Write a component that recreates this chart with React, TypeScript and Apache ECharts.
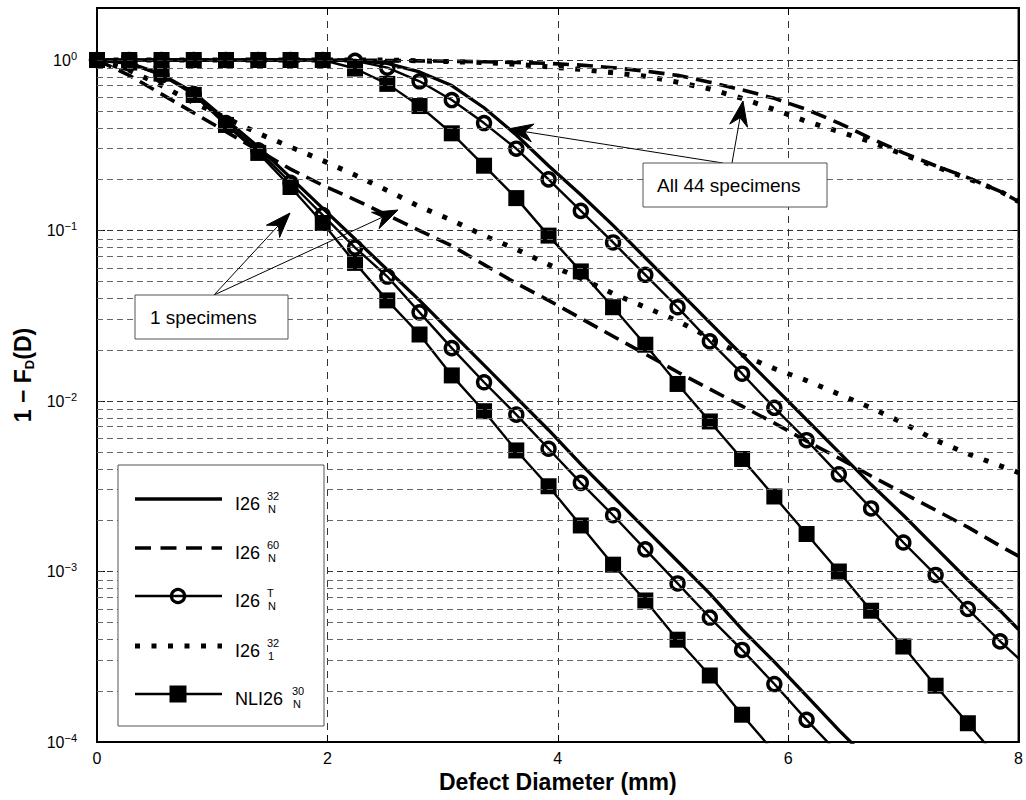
import React, { useEffect, useRef } from 'react';
import * as echarts from 'echarts';

const FONT = "'Liberation Sans', Arial, Helvetica, sans-serif";

// Defect diameter (mm) at which the curves are sampled / markers are placed
const X = [0, 0.28, 0.56, 0.84, 1.12, 1.4, 1.68, 1.96, 2.24, 2.52, 2.8, 3.08, 3.36, 3.64, 3.92, 4.2,
  4.48, 4.76, 5.04, 5.32, 5.6, 5.88, 6.16, 6.44, 6.72, 7.0, 7.28, 7.56, 7.84];
const X_END = 8;

// log10(1 - F_D(D))
// --- 1 specimen ---
const solid1 = [0, -0.02, -0.085, -0.19, -0.35, -0.51, -0.69, -0.87, -1.05, -1.23, -1.41, -1.6, -1.79, -1.98,
  -2.17, -2.37, -2.56, -2.75, -2.94, -3.13, -3.34, -3.53, -3.73, -3.93, -4.12];
const dashed1 = [0, -0.09, -0.2, -0.31, -0.42, -0.53, -0.64, -0.735, -0.82, -0.91, -1.0, -1.09, -1.2, -1.31,
  -1.41, -1.515, -1.62, -1.725, -1.83, -1.93, -2.03, -2.13, -2.235, -2.335, -2.44, -2.54, -2.64, -2.74, -2.85];
const dashed1End = -2.91;
const circle1 = [0, -0.02, -0.09, -0.2, -0.37, -0.53, -0.72, -0.91, -1.1, -1.27, -1.48, -1.69, -1.89, -2.08,
  -2.28, -2.48, -2.67, -2.87, -3.07, -3.27, -3.46, -3.66, -3.87, -4.07];
const dotted1 = [0, -0.06, -0.15, -0.25, -0.34, -0.43, -0.51, -0.59, -0.675, -0.765, -0.86, -0.94, -1.03, -1.11,
  -1.2, -1.28, -1.37, -1.45, -1.53, -1.63, -1.73, -1.81, -1.88, -1.96, -2.04, -2.13, -2.23, -2.31, -2.38];
const dotted1End = -2.42;
const square1 = [0, -0.015, -0.08, -0.205, -0.381, -0.545, -0.745, -0.956, -1.19, -1.41, -1.61, -1.85, -2.06,
  -2.29, -2.5, -2.73, -2.96, -3.17, -3.4, -3.61, -3.84, -4.06];

// --- all 44 specimens ---
const solid44 = [0, 0, 0, 0, 0, 0, 0, 0, -0.003, -0.02, -0.07, -0.15, -0.28, -0.44, -0.62, -0.79, -0.97, -1.16,
  -1.35, -1.54, -1.73, -1.92, -2.11, -2.3, -2.49, -2.67, -2.86, -3.05, -3.23];
const solid44End = -3.34;
const dashed44 = [0, 0, 0, 0, 0, 0, 0, 0, -0.001, -0.003, -0.005, -0.008, -0.01, -0.015, -0.02, -0.03, -0.045,
  -0.065, -0.09, -0.13, -0.175, -0.225, -0.29, -0.37, -0.46, -0.545, -0.62, -0.69, -0.77];
const dashed44End = -0.83;
const circle44 = [0, 0, 0, 0, 0, 0, 0, 0, -0.005, -0.045, -0.125, -0.235, -0.37, -0.52, -0.7, -0.885, -1.07,
  -1.26, -1.45, -1.65, -1.84, -2.04, -2.23, -2.43, -2.63, -2.83, -3.02, -3.22, -3.41];
const circle44End = -3.51;
const dotted44 = [0, 0, 0, 0, 0, 0, 0, 0, 0, 0, -0.005, -0.01, -0.015, -0.025, -0.04, -0.055, -0.075, -0.095,
  -0.13, -0.17, -0.225, -0.29, -0.36, -0.42, -0.48, -0.555, -0.625, -0.695, -0.77];
const dotted44End = -0.83;
const square44 = [0, 0, 0, 0, 0, 0, 0, 0, -0.05, -0.14, -0.27, -0.43, -0.62, -0.81, -1.03, -1.24, -1.45, -1.67,
  -1.9, -2.12, -2.34, -2.56, -2.78, -3.0, -3.23, -3.44, -3.67, -3.89, -4.11];

const X_TICKS = [0, 2, 4, 6, 8];
const Y_DECADES = [-4, -3, -2, -1, 0];

function pts(ys: number[], end?: number) {
  const d: any[] = ys.map((y, i) => [X[i], y]);
  if (end !== undefined) d.push([X_END, end]);
  return d;
}

function arrow(sx: number, sy: number, tx: number, ty: number) {
  const dx = tx - sx, dy = ty - sy, len = Math.hypot(dx, dy);
  const ux = dx / len, uy = dy / len, nx = -uy, ny = ux;
  const L = 25, W = 9, N = 17;
  return [
    { type: 'line', z: 100, shape: { x1: sx, y1: sy, x2: tx - ux * N, y2: ty - uy * N }, style: { stroke: '#000', lineWidth: 1 } },
    {
      type: 'polygon', z: 100,
      shape: { points: [[tx, ty], [tx - ux * L + nx * W, ty - uy * L + ny * W], [tx - ux * N, ty - uy * N], [tx - ux * L - nx * W, ty - uy * L - ny * W]] },
      style: { fill: '#000', stroke: '#000', lineWidth: 1 },
    },
  ];
}

function txt(x: number, y: number, text: string, size: number, align = 'left') {
  return { type: 'text', z: 103, x, y, style: { text, fontSize: size, fontFamily: FONT, fill: '#000', align, verticalAlign: 'middle' } };
}

export default function App() {
  const ref = useRef<HTMLDivElement>(null);
  useEffect(() => {
    const chart = echarts.init(ref.current!, null, { renderer: 'svg' });

    const levels: number[] = [];
    for (let n = -4; n <= -1; n++) for (let k = 1; k <= 9; k++) { const v = n + Math.log10(k); if (v > -3.999) levels.push(v); }
    levels.push(0);

    const black = '#000';
    const solidStyle = { color: black, width: 3.3, type: 'solid' };
    const dashStyle = { color: black, width: 3.6, type: [16, 8], cap: 'butt' };
    const dotStyle = { color: black, width: 5, type: [5, 11.5], cap: 'butt' };
    const markerLine = { color: black, width: 2.4, type: 'solid' };

    const base = { type: 'line', clip: true, silent: true, smooth: false, z: 3, emphasis: { disabled: true } };
    const circleMarks = (name: string, data: any[]) => ({
      type: 'scatter', name, data, clip: true, silent: true, z: 4, symbol: 'circle', symbolSize: 13,
      itemStyle: { color: 'rgba(255,255,255,0)', borderColor: black, borderWidth: 3.4, opacity: 1 },
      emphasis: { disabled: true },
    });
    const squareSeries = (name: string, data: any[]) => ({
      ...base, name, data, symbol: 'rect', symbolSize: 16, showSymbol: true, showAllSymbol: true,
      lineStyle: markerLine, itemStyle: { color: black, borderWidth: 0 },
    });

    const series: any[] = [
      {
        type: 'line', data: [[0, -10]], symbol: 'none', lineStyle: { opacity: 0 }, silent: true, z: 1,
        markLine: {
          silent: true, symbol: ['none', 'none'], label: { show: false }, emphasis: { disabled: true },
          animation: false,
          data: levels.map((v) => ({
            yAxis: v,
            lineStyle: { color: Math.abs(v - Math.round(v)) < 1e-9 ? '#333' : '#666', type: [6, 4], width: 1 },
          })),
        },
      },
      { ...base, name: 'I26 N32 (1)', data: pts(solid1), symbol: 'none', lineStyle: solidStyle },
      { ...base, name: 'I26 N32 (44)', data: pts(solid44, solid44End), symbol: 'none', lineStyle: solidStyle },
      { ...base, name: 'I26 N60 (1)', data: pts(dashed1, dashed1End), symbol: 'none', lineStyle: dashStyle },
      { ...base, name: 'I26 N60 (44)', data: pts(dashed44, dashed44End), symbol: 'none', lineStyle: dashStyle },
      { ...base, name: 'I26 1-32 (1)', data: pts(dotted1, dotted1End), symbol: 'none', lineStyle: dotStyle },
      { ...base, name: 'I26 1-32 (44)', data: pts(dotted44, dotted44End), symbol: 'none', lineStyle: dotStyle },
      squareSeries('NLI26 N30 (1)', pts(square1)),
      squareSeries('NLI26 N30 (44)', pts(square44)),
      { ...base, name: 'I26 NT (1)', data: pts(circle1), symbol: 'none', lineStyle: markerLine },
      { ...base, name: 'I26 NT (44)', data: pts(circle44, circle44End), symbol: 'none', lineStyle: markerLine },
      circleMarks('I26 NT (1) markers', pts(circle1)),
      circleMarks('I26 NT (44) markers', pts(circle44)),
    ];

    // Legend (drawn)
    const LX1 = 135, LX2 = 222, MX = 178;
    const rows = [499, 548, 596, 646, 694];
    const legend: any[] = [
      { type: 'rect', z: 99, shape: { x: 118, y: 465, width: 206, height: 261 }, style: { fill: '#fff', stroke: '#555', lineWidth: 1 } },
      { type: 'line', z: 100, shape: { x1: LX1, y1: rows[0], x2: LX2, y2: rows[0] }, style: { stroke: black, lineWidth: 3.3 } },
      { type: 'line', z: 100, shape: { x1: LX1, y1: rows[1], x2: LX2, y2: rows[1] }, style: { stroke: black, lineWidth: 3.6, lineDash: [16, 9.5] } },
      { type: 'line', z: 100, shape: { x1: LX1, y1: rows[2], x2: LX2, y2: rows[2] }, style: { stroke: black, lineWidth: 2.6 } },
      { type: 'circle', z: 101, shape: { cx: MX, cy: rows[2], r: 6.6 }, style: { fill: 'none', stroke: black, lineWidth: 3.2 } },
      { type: 'line', z: 100, shape: { x1: LX1, y1: rows[3], x2: LX2, y2: rows[3] }, style: { stroke: black, lineWidth: 5, lineDash: [5, 11.5] } },
      { type: 'line', z: 100, shape: { x1: LX1, y1: rows[4], x2: LX2, y2: rows[4] }, style: { stroke: black, lineWidth: 2.6 } },
      { type: 'rect', z: 101, shape: { x: MX - 8.5, y: rows[4] - 8.5, width: 17, height: 17 }, style: { fill: black } },
    ];
    const labels: [string, string, string, number][] = [
      ['I26', '32', 'N', 267],
      ['I26', '60', 'N', 267],
      ['I26', 'T', 'N', 267],
      ['I26', '32', '1', 267],
      ['NLI26', '30', 'N', 292],
    ];
    labels.forEach(([m, sup, sub, sx], i) => {
      legend.push(txt(235, rows[i] + 4.5, m, 18));
      legend.push(txt(sx, rows[i] - 3.5, sup, 11));
      legend.push(txt(sx + 1, rows[i] + 10, sub, 11));
    });

    const annotations: any[] = [
      ...arrow(214, 295, 290, 213),
      ...arrow(214, 295, 398, 210),
      ...arrow(723, 163, 508, 129),
      ...arrow(732, 163, 743, 101),
      { type: 'rect', z: 102, shape: { x: 135, y: 295, width: 153, height: 44 }, style: { fill: '#fff', stroke: '#555', lineWidth: 1 } },
      txt(150, 317.5, '1 specimens', 19),
      { type: 'rect', z: 102, shape: { x: 643, y: 163, width: 184, height: 44 }, style: { fill: '#fff', stroke: '#555', lineWidth: 1 } },
      txt(657, 185.5, 'All 44 specimens', 19),
    ];

    const option: any = {
      animation: false,
      backgroundColor: '#fff',
      textStyle: { fontFamily: FONT },
      grid: { left: 97, right: 1, top: 8, bottom: 58, show: true, borderColor: '#000', borderWidth: 2, backgroundColor: 'transparent' },
      xAxis: [
        {
          type: 'value', min: 0, max: 8, interval: 2,
          name: 'Defect Diameter (mm)', nameLocation: 'middle', nameGap: 26,
          nameTextStyle: { fontSize: 23, fontWeight: 'bold', color: '#000', fontFamily: FONT },
          axisLine: { show: true, onZero: false, lineStyle: { color: '#000', width: 2 } },
          axisTick: { show: true, inside: true, length: 7, lineStyle: { color: '#000', width: 1 } },
          axisLabel: { fontSize: 16, color: '#000', margin: 8, fontFamily: FONT, customValues: X_TICKS },
          splitLine: { show: true, showMinLine: false, showMaxLine: false, lineStyle: { color: '#333', type: [7, 6], width: 1 } },
        },
        {
          type: 'value', min: 0, max: 8, interval: 2, position: 'top',
          axisLine: { show: true, onZero: false, lineStyle: { color: '#000', width: 2 } },
          axisTick: { show: true, inside: true, length: 7, lineStyle: { color: '#000' } },
          axisLabel: { show: false }, splitLine: { show: false },
        },
      ],
      yAxis: [
        {
          type: 'value', min: -4, max: 0.305, interval: 1,
          name: '{a|1 − F}{b|D}{a|(D)}', nameLocation: 'middle', nameGap: 52, nameRotate: 90,
          nameTextStyle: {
            color: '#000',
            rich: {
              a: { fontSize: 23, fontWeight: 'bold', fontFamily: FONT, color: '#000' },
              b: { fontSize: 13, fontWeight: 'bold', fontFamily: FONT, color: '#000', padding: [12, 0, 0, 0] },
            },
          },
          axisLine: { show: true, onZero: false, lineStyle: { color: '#000', width: 2 } },
          axisTick: { show: true, inside: true, length: 8, lineStyle: { color: '#000' } },
          axisLabel: {
            margin: 20, color: '#000',
            formatter: (v: number) => {
              if (!Y_DECADES.includes(v)) return '';
              return '{b|10}{s|' + (v === 0 ? '0' : '−' + -v) + '}';
            },
            rich: {
              b: { fontSize: 16, fontFamily: FONT, color: '#000' },
              s: { fontSize: 11, fontFamily: FONT, color: '#000', padding: [0, 0, 9, 0] },
            },
          },
          splitLine: { show: false },
        },
        {
          type: 'value', min: -4, max: 0.305, interval: 1, position: 'right',
          axisLine: { show: true, onZero: false, lineStyle: { color: '#000', width: 2 } },
          axisTick: { show: true, inside: true, length: 8, lineStyle: { color: '#000' } },
          axisLabel: { show: false }, splitLine: { show: false },
        },
      ],
      series,
      graphic: { elements: [...legend, ...annotations] },
    };
    chart.setOption(option);
    return () => chart.dispose();
  }, []);
  return <div ref={ref} style={{ position: 'fixed', left: 0, top: 0, width: 1026, height: 800, background: '#fff' }} />;
}
